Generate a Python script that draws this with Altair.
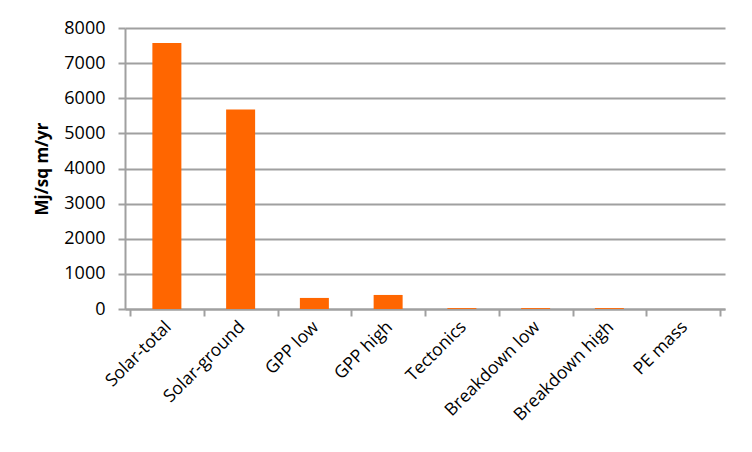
import altair as alt
import pandas as pd

categories = ["Solar-total", "Solar-ground", "GPP low", "GPP high", "Tectonics",
              "Breakdown low", "Breakdown high", "PE mass"]
values = [7570, 5680, 315, 400, 25, 25, 25, 0]
y_ticks = [0, 1000, 2000, 3000, 4000, 5000, 6000, 7000, 8000]

df = pd.DataFrame({
    "category": categories,
    "value": values,
    "pos": [i + 0.5 for i in range(len(categories))],
})

n = len(categories)
arr = "[" + ",".join("'" + c + "'" for c in categories) + "]"
label_expr = f"datum.value < {n} ? {arr}[datum.value] : ''"

FONT = "Open Sans"

bars = alt.Chart(df).mark_bar(size=29, color="#FF6600").encode(
    x=alt.X("pos:Q",
            scale=alt.Scale(domain=[0, n], nice=False, zero=False),
            axis=alt.Axis(values=list(range(n + 1)), labelExpr=label_expr,
                          labelAngle=-45, labelAlign="right", labelBaseline="middle",
                          labelOffset=38, labelPadding=8, labelFontSize=17.5,
                          labelColor="#000000", labelFont=FONT,
                          tickSize=7, tickColor="#A0A0A0", tickWidth=2,
                          domainColor="#A0A0A0", domainWidth=2,
                          grid=False, title=None, labelOverlap=False)),
    y=alt.Y("value:Q",
            scale=alt.Scale(domain=[0, 8000], nice=False),
            axis=alt.Axis(values=y_ticks, format="d", labelFontSize=18, labelFont=FONT,
                          labelColor="#000000", labelPadding=13,
                          tickSize=7, tickColor="#A0A0A0", tickWidth=2,
                          domainColor="#A0A0A0", domainWidth=2,
                          grid=True, gridColor="#A0A0A0", gridWidth=2,
                          title="Mj/sq m/yr", titleFontSize=17, titleFont=FONT,
                          titleFontWeight="bold", titleColor="#000000",
                          titlePadding=12)),
)

chart = bars.properties(
    width=600, height=281,
    autosize=alt.AutoSizeParams(type="none"),
    padding={"left": 117, "top": 20, "right": 19, "bottom": 135},
    background="white",
).configure_view(stroke=None)

chart.save("out.html", embed_options={"renderer": "svg", "actions": False})
